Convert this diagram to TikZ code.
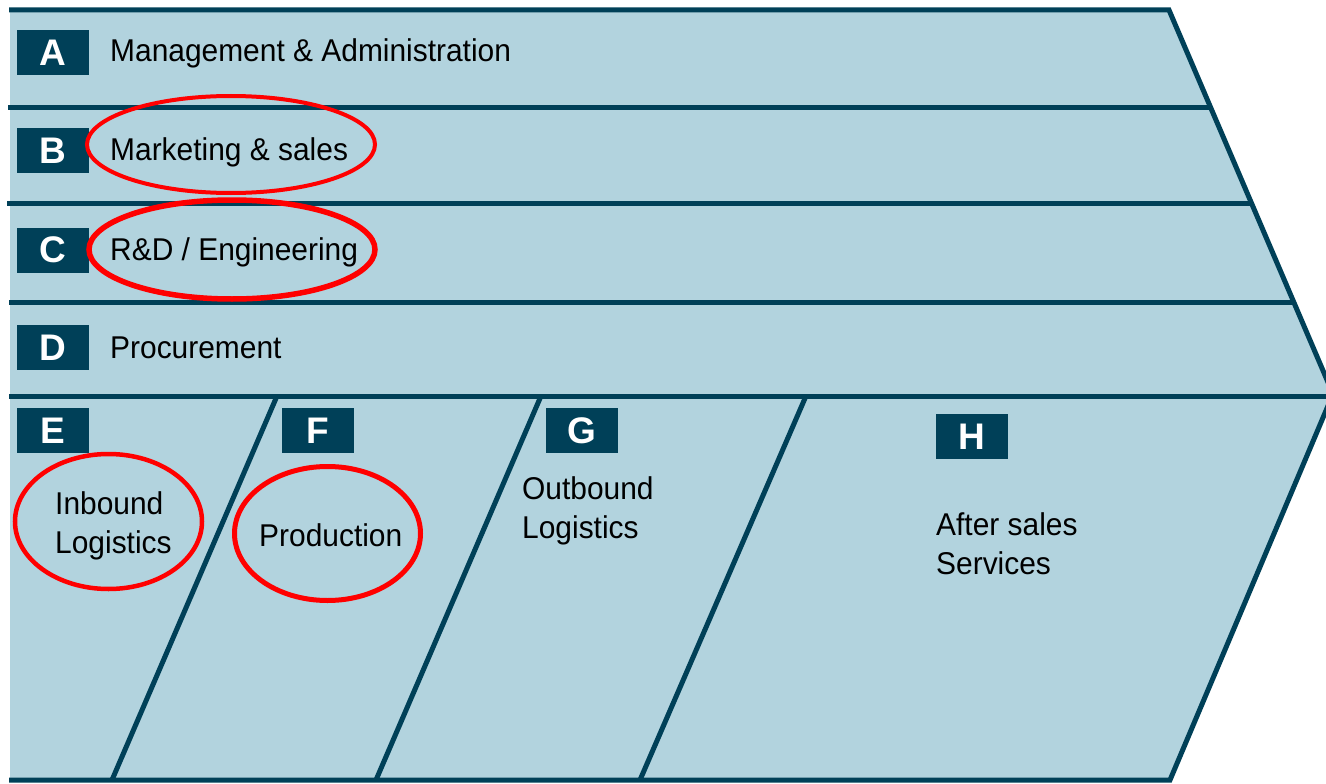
\documentclass[tikz,border=0pt]{standalone}
\usepackage{fontspec}
\setmainfont{Liberation Sans}
\newfontfamily\narrowsans[FakeStretch=0.95]{Liberation Sans}
\definecolor{chev}{HTML}{B2D3DE}
\definecolor{navy}{HTML}{004058}
\definecolor{ring}{HTML}{FF0000}
\tikzset{
  edge/.style={draw=navy, line width=5pt, line join=miter},
  lbl/.style={fill=navy, text=white, inner sep=0pt, minimum width=72pt, minimum height=45pt,
    font=\bfseries\fontsize{37}{37}\selectfont},
  txt/.style={text=black, inner sep=0pt, anchor=base west, align=left,
    font=\narrowsans\fontsize{31.5}{39}\selectfont},
  redring/.style={draw=ring}
}
\begin{document}
\begin{tikzpicture}[x=1pt,y=-1pt]
\useasboundingbox (0,0) rectangle (1326,784);
\clip (0,0) rectangle (1326,784);
% chevron body
\fill[chev] (10,10) -- (1169,10) -- (1333,394) -- (1170,780) -- (10,780) -- cycle;
% separators
\draw[edge] (8,107) -- (1210.5,107);
\draw[edge] (7,203) -- (1251.6,203);
\draw[edge] (9,302) -- (1294,302);
\draw[edge] (9,396) -- (1333,396);
\draw[edge] (277,396) -- (112,780);
\draw[edge] (541,396) -- (376,780);
\draw[edge] (806,396) -- (640,780);
% outline
\draw[edge] (9,10) -- (1169,10) -- (1333,394) -- (1170,780) -- (9,780);
% letter boxes
\node[lbl] (lA) at (53,52.5) {A};
\node[lbl] (lB) at (53,150.5) {B};
\node[lbl] (lC) at (53,250) {C};
\node[lbl] (lD) at (53,347.5) {D};
\node[lbl] (lE) at (53,430.5) {E};
\node[lbl] (lF) at (317.5,430.5) {F};
\node[lbl] (lG) at (581.5,430.5) {G};
\node[lbl] (lH) at (971.5,436.5) {H};
% texts
\node[txt] (tA) at (110,62) {Management \& Administration};
\node[txt] (tB) at (110,160) {Marketing \& sales};
\node[txt] (tC) at (110,260) {R\&D / Engineering};
\node[txt] (tD) at (110,358) {Procurement};
\node[txt] (tE) at (55,553) {Inbound\\Logistics};
\node[txt] (tF) at (259,546) {Production};
\node[txt] (tG) at (522,538) {Outbound\\Logistics};
\node[txt] (tH) at (936,574) {After sales\\Services};
% red highlights
\draw[redring, line width=4pt] (231,144.5) ellipse [x radius=144, y radius=48.5];
\draw[redring, line width=5.5pt] (232,249.5) ellipse [x radius=143, y radius=49.5];
\draw[redring, line width=4.5pt] (108.5,521.5) ellipse [x radius=93.5, y radius=67.5];
\draw[redring, line width=5pt] (327.5,533.5) ellipse [x radius=93, y radius=67];
\end{tikzpicture}
\end{document}
